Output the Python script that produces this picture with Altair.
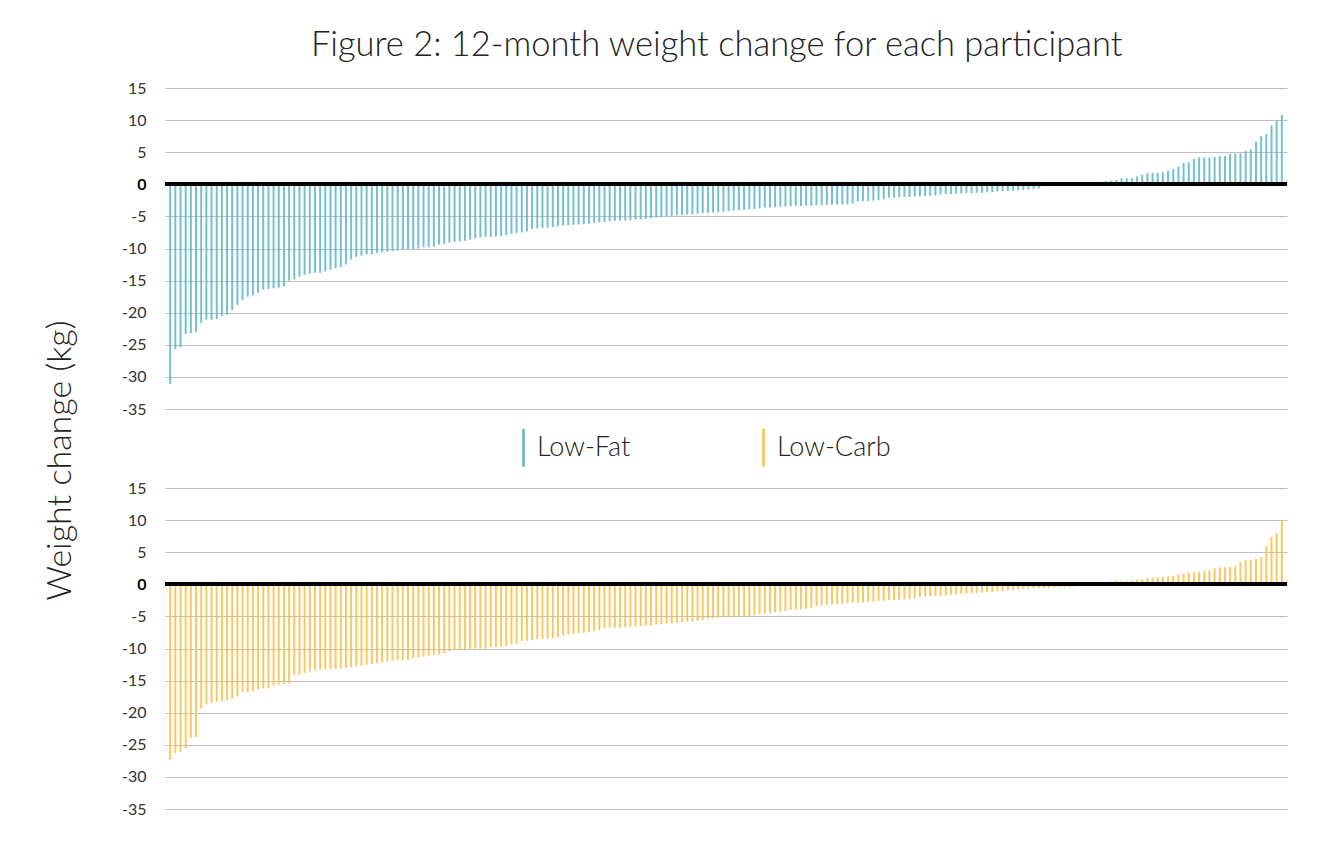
import altair as alt
import pandas as pd

# ---------------- data ----------------
title_text = "Figure 2: 12-month weight change for each participant"
y_title = "Weight change (kg)"
diets = ["Low-Fat", "Low-Carb"]
diet_colors = ["#5ab5c7", "#f6c044"]
y_ticks = [15, 10, 5, 0, -5, -10, -15, -20, -25, -30, -35]

low_fat = [
    -31.1, -25.7, -25.4, -23.3, -23.2, -23.0, -21.6, -21.1, -21.1, -21.0,
    -20.5, -20.3, -19.6, -18.8, -18.0, -17.5, -17.3, -16.9, -16.4, -16.3,
    -16.2, -16.1, -15.9, -15.0, -14.8, -14.4, -14.1, -13.9, -13.8, -13.8,
    -13.6, -13.3, -13.1, -12.9, -12.5, -11.7, -11.3, -11.1, -10.9, -10.9,
    -10.7, -10.6, -10.5, -10.4, -10.3, -10.2, -10.1, -10.1, -10.0, -9.8,
    -9.8, -9.7, -9.4, -9.3, -9.1, -9.0, -8.9, -8.8, -8.6, -8.4,
    -8.3, -8.2,
    -8.2, -8.15, -8.05, -7.9, -7.74, -7.59, -7.49, -7.33, -6.97, -6.87,
    -6.82, -6.77, -6.67, -6.56, -6.41, -6.36, -6.31, -6.26, -6.2, -6.1,
    -6.0, -5.95, -5.85, -5.74, -5.69, -5.69, -5.64, -5.59, -5.49, -5.44,
    -5.38, -5.28, -5.18, -5.08, -4.97, -4.92, -4.82, -4.77, -4.72, -4.67,
    -4.56, -4.51, -4.46, -4.41, -4.36, -4.26, -4.15, -4.1, -4.05, -4.0,
    -3.9, -3.85, -3.74, -3.62,
    -3.6, -3.58, -3.53, -3.47, -3.42, -3.37, -3.37, -3.32, -3.32, -3.26,
    -3.26, -3.21, -3.21, -3.16, -3.16, -3.1, -3.0, -2.68, -2.63, -2.58,
    -2.53, -2.47, -2.37, -2.1, -2.05, -2.0, -1.95, -1.95, -1.89, -1.89,
    -1.84, -1.79, -1.74, -1.58, -1.53, -1.53, -1.47, -1.42, -1.37, -1.37,
    -1.32, -1.32, -1.26, -1.21, -1.1, -1.05, -1.05, -1.0, -0.95, -0.89,
    -0.79, -0.74, -0.63,
    0.0, 0.0, 0.0, 0.0, 0.0, 0.0, 0.0, 0.0, 0.0, 0.0,
    0.22, 0.39, 0.5, 0.56, 0.67, 0.94, 0.94, 0.94, 1.22, 1.5,
    1.78, 1.78, 1.78, 1.89, 2.17, 2.39, 2.78, 3.33, 3.44, 3.94,
    4.17, 4.17, 4.17, 4.28, 4.39, 4.39, 4.78, 4.78, 4.78, 5.2,
    5.45, 6.65, 7.5, 7.8, 9.15, 9.9, 10.8,
]

low_carb = [
    -27.3, -26.3, -26.1, -25.5, -23.9, -23.8, -19.3, -18.7, -18.5, -18.3,
    -18.2, -18.1, -17.8, -17.4, -16.8, -16.8, -16.7, -16.4, -16.2, -16.2,
    -15.8, -15.6, -15.6, -15.4, -14.1, -14.0, -13.8, -13.6, -13.3, -13.3,
    -13.2, -13.2, -13.2, -13.1, -13.0, -12.9, -12.8, -12.7, -12.5, -12.4,
    -12.3, -12.2, -12.0, -11.9, -11.8, -11.8, -11.7, -11.5, -11.4, -11.3,
    -11.1, -11.0, -10.9, -10.7,
    -10.4, -10.26, -10.15, -10.1, -10.05, -10.0, -10.0, -10.0, -9.8, -9.74,
    -9.7, -9.6, -9.33, -9.28, -8.8, -8.77, -8.72, -8.56, -8.5, -8.46,
    -8.4, -8.26, -8.0, -7.8, -7.74, -7.64, -7.54, -7.38, -7.28, -7.18,
    -6.82, -6.77, -6.77, -6.72, -6.67, -6.62, -6.56, -6.5, -6.46, -6.41,
    -6.26, -6.2, -6.15, -6.1, -5.95, -5.85, -5.8, -5.74, -5.64, -5.54,
    -5.38, -5.28, -5.18, -5.13,
    -5.08, -5.08, -5.03, -4.97, -4.92, -4.82, -4.67, -4.57, -4.47, -4.37,
    -4.26, -4.11, -4.01, -3.91, -3.86, -3.76, -3.65, -3.4, -3.3, -3.25,
    -3.15, -3.1, -3.05, -2.94, -2.89, -2.89, -2.84, -2.74, -2.69, -2.64,
    -2.59, -2.49, -2.44, -2.39, -2.34, -2.34, -2.23, -1.98, -1.88, -1.88,
    -1.83, -1.78, -1.73, -1.62, -1.57, -1.47, -1.42, -1.37, -1.32, -1.27,
    -1.22, -1.17, -1.07, -1.07, -0.96, -0.86, -0.71,
    -0.68, -0.65, -0.62, -0.6, -0.57, -0.55, -0.52, -0.5, -0.47, -0.44,
    -0.41,
    0.0, 0.0, 0.0, 0.0, 0.0, 0.0,
    0.49, 0.54, 0.54, 0.54, 0.6, 0.71, 0.76, 0.98, 1.03, 1.14,
    1.2, 1.2, 1.3, 1.52, 1.63, 1.85, 1.85, 1.96, 2.07, 2.17,
    2.5, 2.61, 2.66, 2.72, 2.78, 3.42, 3.8, 3.8, 3.97, 4.24,
    5.96, 7.37, 7.98, 10.0,
]

n = len(low_fat)
participants = list(range(1, n + 1))

fat_df = pd.DataFrame({"participant": participants, "change": low_fat, "diet": diets[0]})
carb_df = pd.DataFrame({"participant": participants, "change": low_carb, "diet": diets[1]})

# ---------------- chart ----------------
W, H = 1122, 321
FONT = "Lato"

x_scale = alt.Scale(domain=[0, n + 1], nice=False, zero=False)
y_scale = alt.Scale(domain=[-35, 15], nice=False)
c_scale = alt.Scale(domain=diets, range=diet_colors)

bold_zero = {"condition": {"test": "datum.value == 0", "value": "bold"}, "value": "normal"}
zero_color = {"condition": {"test": "datum.value == 0", "value": "#000000"}, "value": "#333333"}


def panel(df, y_axis, legend):
    bars = alt.Chart(df).mark_rule(strokeWidth=2, opacity=0.85).encode(
        x=alt.X("participant:Q", scale=x_scale, axis=None),
        y=alt.Y("change:Q", scale=y_scale, axis=y_axis),
        y2=alt.datum(0),
        color=alt.Color("diet:N", scale=c_scale, legend=legend),
    )
    zero = alt.Chart(df).mark_rule(color="black", strokeWidth=3).encode(y=alt.datum(0))
    return alt.layer(bars, zero).properties(width=W, height=H)


def make_axis(title=None, **kw):
    args = dict(
        values=y_ticks,
        tickCount=len(y_ticks) + 2,
        domain=False,
        ticks=False,
        grid=True,
        gridColor="#bfbfbf",
        gridWidth=1,
        labelFont=FONT,
        labelFontSize=16,
        labelPadding=19,
        labelOverlap=False,
        labelExpr="toString(datum.value)",
        labelFontWeight=bold_zero,
        labelColor=zero_color,
    )
    args.update(kw)
    args["title"] = title
    return alt.Axis(**args)


legend = alt.Legend(
    title=None,
    orient="none",
    legendX=345,
    legendY=346,
    direction="horizontal",
    symbolType="M0,-16L0,16",
    symbolSize=5.6,
    symbolStrokeWidth=2.5,
    symbolOpacity=1,
    labelFont=FONT,
    labelFontSize=27,
    labelFontWeight=300,
    labelColor="#222222",
    labelOffset=0,
    columnPadding=119,
)

top = panel(fat_df, make_axis(), legend)
bottom = panel(
    carb_df,
    make_axis(
        title=y_title,
        titleFont=FONT,
        titleFontSize=34,
        titleFontWeight=300,
        titleColor="#222222",
        titleX=-105,
        titleY=-28,
        titleAngle=270,
        titleAlign="center",
        titleBaseline="middle",
    ),
    legend,
)

chart = alt.vconcat(top, bottom, spacing=79, bounds="flush").properties(
    title=alt.TitleParams(
        text=title_text,
        font=FONT,
        fontSize=34.5,
        fontWeight=300,
        color="#222222",
        anchor="middle",
        offset=17,
        dx=51,
    ),
    background="white",
    padding={"left": 34, "top": 19, "right": 10, "bottom": 10},
).configure_view(strokeOpacity=0, strokeWidth=0)

chart.save("out.html", embed_options={"renderer": "svg", "actions": False})
